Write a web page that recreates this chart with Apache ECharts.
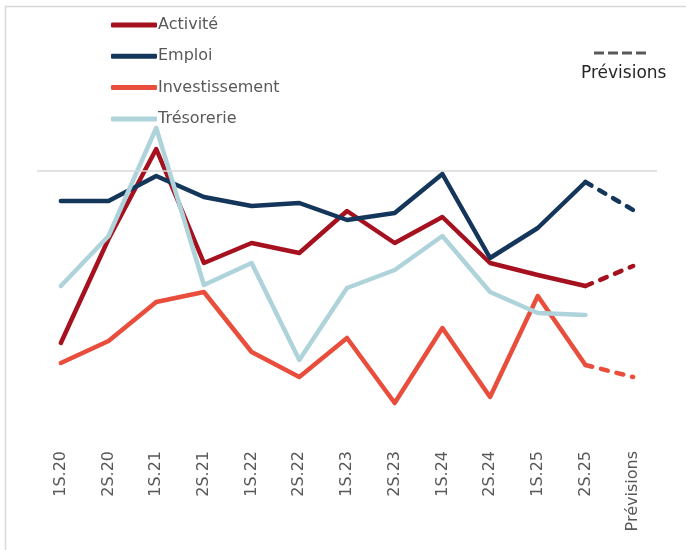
<!DOCTYPE html>
<html>
<head>
<meta charset="utf-8">
<script src="https://cdn.jsdelivr.net/npm/echarts@6/dist/echarts.min.js"></script>
<style>
  html, body { margin: 0; padding: 0; background: #fff; }
  #chart { width: 686px; height: 550px; }
</style>
</head>
<body>
<div id="chart"></div>
<script>
// catégories (semestres) + point de prévision
const categories = ['1S.20', '2S.20', '1S.21', '2S.21', '1S.22', '2S.22', '1S.23', '2S.23', '1S.24', '2S.24', '1S.25', '2S.25', 'Prévisions'];

// soldes d'opinion (unités arbitraires, 0 = ligne grise)
const activite       = [-43, -17, 5.5, -23, -18, -20.5, -10, -18, -11.5, -23, -26, -28.75];
const emploi         = [-7.5, -7.5, -1.25, -6.5, -8.75, -8, -12.25, -10.5, -0.75, -21.75, -14.25, -2.75];
const investissement = [-48, -42.5, -32.75, -30.25, -45.25, -51.5, -41.75, -58, -39.25, -56.5, -31.25, -48.5];
const tresorerie     = [-28.75, -16.25, 10.75, -28.5, -23, -47.25, -29.25, -24.75, -16.25, -30.25, -35.5, -36];

// valeurs prévues (dernier point)
const prevActivite       = -23.75;
const prevEmploi         = -9.75;
const prevInvestissement = -51.5;

const colors = {
  activite: '#A6111F',
  emploi: '#14365A',
  investissement: '#E94E3D',
  tresorerie: '#AED3DB'
};

const FONT = 'DejaVu Sans';

const chart = echarts.init(document.getElementById('chart'));

function solid(name, data, color) {
  return {
    name: name,
    type: 'line',
    data: data.concat([null]),
    symbol: 'none',
    lineStyle: { color: color, width: 4.5, cap: 'round', join: 'round' },
    itemStyle: { color: color }
  };
}

function dashed(name, data, prev, color) {
  const d = categories.map(() => null);
  d[data.length - 1] = data[data.length - 1];
  d[data.length] = prev;
  return {
    name: name + ' (prévision)',
    type: 'line',
    data: d,
    symbol: 'none',
    lineStyle: { color: color, width: 4.5, type: [7, 9], cap: 'round' },
    itemStyle: { color: color }
  };
}

const series = [
  solid('Activité', activite, colors.activite),
  solid('Emploi', emploi, colors.emploi),
  solid('Investissement', investissement, colors.investissement),
  solid('Trésorerie', tresorerie, colors.tresorerie),
  dashed('Activité', activite, prevActivite, colors.activite),
  dashed('Emploi', emploi, prevEmploi, colors.emploi),
  dashed('Investissement', investissement, prevInvestissement, colors.investissement)
];

// ligne du zéro
series[0].markLine = {
  silent: true,
  symbol: 'none',
  label: { show: false },
  lineStyle: { color: '#D9D9D9', width: 1.5, type: 'solid' },
  data: [{ yAxis: 0 }]
};

const option = {
  animation: false,
  textStyle: { fontFamily: FONT },
  graphic: [
    {
      type: 'rect',
      shape: { x: 5.5, y: 6.5, width: 720, height: 600 },
      style: { fill: null, stroke: '#D9D9D9', lineWidth: 1.5 },
      silent: true
    },
    {
      type: 'line',
      shape: { x1: 594, y1: 53, x2: 648, y2: 53 },
      style: { stroke: '#595959', lineWidth: 3, lineDash: [10, 4] },
      silent: true
    },
    {
      type: 'text',
      left: 581,
      top: 65,
      style: { text: 'Prévisions', fill: '#262626', font: '17px "DejaVu Sans"' },
      silent: true
    }
  ],
  legend: {
    data: ['Activité', 'Emploi', 'Investissement', 'Trésorerie'],
    orient: 'vertical',
    left: 106,
    top: 12,
    itemWidth: 46,
    itemHeight: 5,
    itemGap: 15.3,
    icon: 'roundRect',
    textStyle: { color: '#595959', fontSize: 16, fontFamily: FONT, padding: [0, 0, 0, -4] }
  },
  grid: { left: 37, right: 29, top: 91, bottom: 107 },
  xAxis: {
    type: 'category',
    data: categories,
    boundaryGap: true,
    axisLine: { show: false, onZero: false },
    axisTick: { show: false },
    axisLabel: { rotate: 90, color: '#595959', fontSize: 16, fontFamily: FONT, margin: 8, interval: 0 }
  },
  yAxis: {
    type: 'value',
    min: -68,
    max: 20,
    show: false
  },
  series: series
};

chart.setOption(option);
window.addEventListener('resize', () => {
  chart.resize();
});
</script>
</body>
</html>
